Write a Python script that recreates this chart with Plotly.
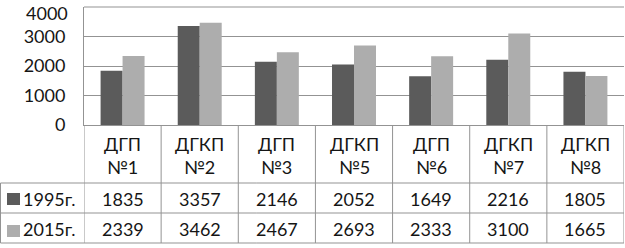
import plotly.graph_objects as go

categories = ["ДГП<br>№1", "ДГКП<br>№2", "ДГП<br>№3", "ДГКП<br>№5", "ДГП<br>№6", "ДГКП<br>№7", "ДГКП<br>№8"]
series_names = ["1995г.", "2015г."]
values_1995 = [1835, 3357, 2146, 2052, 1649, 2216, 1805]
values_2015 = [2339, 3462, 2467, 2693, 2333, 3100, 1665]
y_ticks = [0, 1000, 2000, 3000, 4000]

W, H = 625, 248
def px(x): return x / W
def py(y): return 1 - y / H

DARK = "#5b5b5b"
LIGHT = "#adadad"
GRID = "#939393"
TXT = "#151515"
FONT = "Lato"
FS = 18

fig = go.Figure()
fig.add_bar(x=list(range(len(categories))), y=values_1995, name=series_names[0], marker=dict(color=DARK, line_width=0))
fig.add_bar(x=list(range(len(categories))), y=values_2015, name=series_names[1], marker=dict(color=LIGHT, line_width=0))

n = len(categories)
x_left, x_right = 84, 624
y_axis0, y_top = 125, 7
row_cat_bot, row1_bot, row2_bot = 183, 213, 243

shapes = []
line = dict(color=GRID, width=1)
for i in range(n + 1):
    shapes.append(dict(type="line", xref="x", yref="paper", x0=i - 0.5, x1=i - 0.5,
                       y0=py(row2_bot), y1=py(y_axis0), line=line))
for yy in (row_cat_bot, row1_bot, row2_bot):
    shapes.append(dict(type="line", xref="paper", yref="paper", x0=px(0.5), x1=px(x_right),
                       y0=py(yy), y1=py(yy), line=line))
shapes.append(dict(type="line", xref="paper", yref="paper", x0=px(0.5), x1=px(0.5),
                   y0=py(row2_bot), y1=py(row_cat_bot), line=line))
shapes.append(dict(type="line", xref="paper", yref="paper", x0=px(x_left), x1=px(x_right),
                   y0=py(y_top), y1=py(y_top), line=line))
for col, yc in [(DARK, 199), (LIGHT, 231)]:
    shapes.append(dict(type="rect", xref="paper", yref="paper", x0=px(7), x1=px(20),
                       y0=py(yc + 6), y1=py(yc - 6), fillcolor=col, line_width=0))

tf = dict(family=FONT, size=FS, color=TXT)
annotations = []
for i, c in enumerate(categories):
    annotations.append(dict(x=i, y=py(155), xref="x", yref="paper", text=c, showarrow=False,
                            xanchor="center", yanchor="middle", font=tf, align="center"))
    annotations.append(dict(x=i, y=py(199), xref="x", yref="paper", text=str(values_1995[i]),
                            showarrow=False, xanchor="center", yanchor="middle", font=tf))
    annotations.append(dict(x=i, y=py(229), xref="x", yref="paper", text=str(values_2015[i]),
                            showarrow=False, xanchor="center", yanchor="middle", font=tf))
for name, yc in zip(series_names, (199, 229)):
    annotations.append(dict(x=px(21), y=py(yc), xref="paper", yref="paper", text=name,
                            xanchor="left", yanchor="middle", showarrow=False, font=tf))
# top tick label kept inside the page
annotations.append(dict(x=px(70), y=1, xref="paper", yref="paper", text=str(y_ticks[-1]),
                        xanchor="right", yanchor="top", showarrow=False, font=tf))

tick_text = [str(v) for v in y_ticks[:-1]] + [""]

fig.update_layout(
    width=W, height=H, autosize=False, margin=dict(l=0, r=0, t=0, b=0, pad=0),
    paper_bgcolor="white", plot_bgcolor="white",
    barmode="group", bargap=0.43, bargroupgap=0,
    showlegend=False,
    shapes=shapes, annotations=annotations,
    xaxis=dict(domain=[px(x_left), px(x_right)], range=[-0.5, n - 0.5], showticklabels=False,
               automargin=False,
               showgrid=False, zeroline=False, showline=True, linecolor=GRID, linewidth=1, ticks=""),
    yaxis=dict(domain=[py(y_axis0), py(y_top)], range=[0, 4000], tickvals=y_ticks, ticktext=tick_text,
               automargin=False,
               showgrid=True, gridcolor=GRID, gridwidth=1, zeroline=False,
               showline=True, linecolor=GRID, linewidth=1, ticks="",
               ticklabelstandoff=14, ticklabeloverflow="allow", tickfont=tf),
)

post = ("var s=document.documentElement.style;s.margin='0';s.padding='0';s.overflow='hidden';"
        "var b=document.body.style;b.margin='0';b.padding='0';b.overflow='hidden';")
fig.write_html("out.html", config={"responsive": False, "displayModeBar": False}, post_script=post)
